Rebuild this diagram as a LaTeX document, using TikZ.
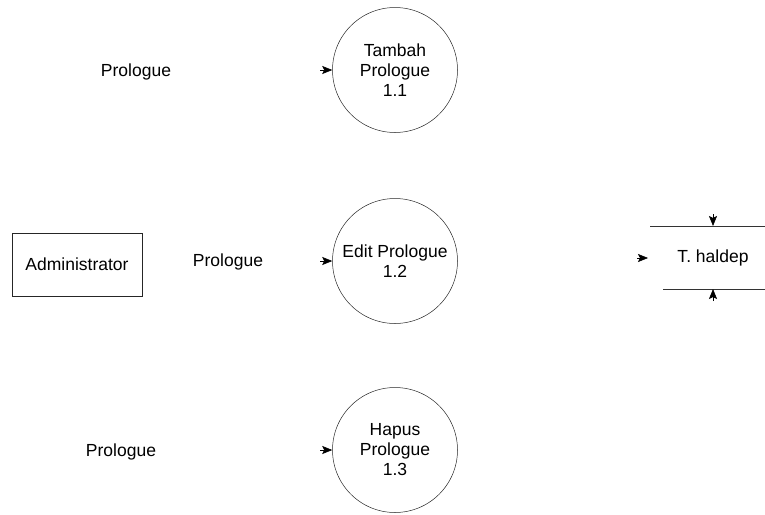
\documentclass[tikz,border=0pt]{standalone}
\usepackage{fontspec}
\setmainfont{Liberation Sans}
\usetikzlibrary{arrows.meta}
\begin{document}
\begin{tikzpicture}[x=1pt,y=-1pt,
  every node/.style={font=\fontsize{17.5}{20}\selectfont},
  proc/.style={draw=black!85, line width=0.5pt, circle, minimum size=125pt, inner sep=0pt, align=center},
  entity/.style={draw=black!85, line width=0.5pt, minimum width=130pt, minimum height=63pt, inner sep=0pt},
  lbl/.style={inner sep=0pt},
  flow/.style={-{Stealth[length=10pt,width=8pt,inset=2pt]}, line width=0.6pt},
  storeline/.style={draw=black!80, line width=0.5pt}]
\useasboundingbox (0,0) rectangle (765,514);
% processes
\node[proc] (p1) at (395,70) {Tambah\\Prologue\\1.1};
\node[proc] (p2) at (395,261) {Edit Prologue\\1.2};
\node[proc] (p3) at (395,450) {Hapus\\Prologue\\1.3};
% external entity
\node[entity] (adm) at (77,264.5) {Administrator};
% flow labels
\node[lbl] (l1) at (136,72) {Prologue};
\node[lbl] (l2) at (228,262) {Prologue};
\node[lbl] (l3) at (121,452) {Prologue};
% arrow tails (lines not visible in the reference)
\coordinate (s1) at (320,70);
\coordinate (s2) at (320,261);
\coordinate (s3) at (320,450);
\draw[flow] (s1) -- (p1.west);
\draw[flow] (s2) -- (p2.west);
\draw[flow] (s3) -- (p3.west);
% data store
\node[lbl] (ds) at (713,258) {T. haldep};
\coordinate (d1) at (650,226);
\coordinate (d2) at (765,226);
\coordinate (d3) at (663,289);
\coordinate (d4) at (765,289);
\draw[storeline] (d1) -- (d2);
\draw[storeline] (d3) -- (d4);
\coordinate (dstop) at (713,226);
\coordinate (dsbot) at (713,289);
\coordinate (ta) at (713,214);
\coordinate (ba) at (713,301);
\draw[flow] (ta) -- (dstop);
\draw[flow] (ba) -- (dsbot);
\coordinate (la) at (637,258);
\coordinate (dsin) at (648,258);
\draw[flow] (la) -- (dsin);
\end{tikzpicture}
\end{document}
